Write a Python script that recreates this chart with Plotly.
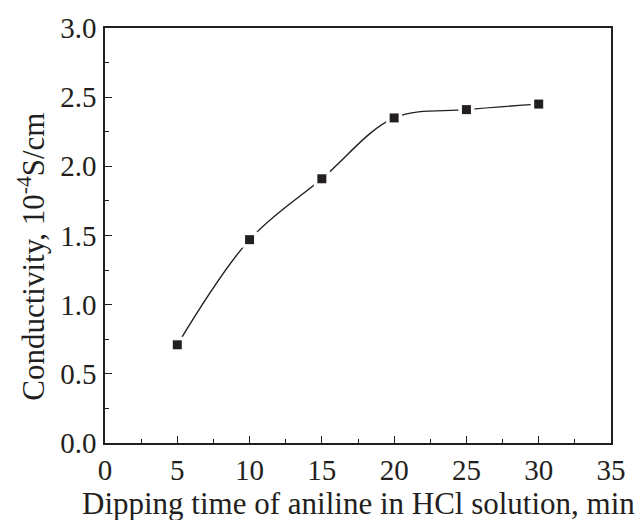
import plotly.graph_objects as go

# Conductivity vs. dipping time
dip_time_min = [5, 10, 15, 20, 25, 30]
conductivity = [0.71, 1.47, 1.91, 2.35, 2.41, 2.45]

x_ticks = [0, 5, 10, 15, 20, 25, 30, 35]
y_ticks = [0.0, 0.5, 1.0, 1.5, 2.0, 2.5, 3.0]
y_tick_text = [f"{v:.1f}" for v in y_ticks]

FONT = "Liberation Serif"
INK = "#231f20"

fig = go.Figure()

# smooth connecting curve
fig.add_trace(go.Scatter(
    x=dip_time_min, y=conductivity, mode="lines",
    line=dict(color=INK, width=1.4, shape="spline", smoothing=1.0),
    hoverinfo="skip", showlegend=False,
))
# white halo so the curve stops short of each point
fig.add_trace(go.Scatter(
    x=dip_time_min, y=conductivity, mode="markers",
    marker=dict(symbol="square", size=16, color="white", line=dict(width=0)),
    hoverinfo="skip", showlegend=False,
))
# data points
fig.add_trace(go.Scatter(
    x=dip_time_min, y=conductivity, mode="markers",
    marker=dict(symbol="square", size=9, color=INK, line=dict(width=0)),
    showlegend=False,
))

axis_common = dict(
    showline=True, linecolor=INK, linewidth=1.5, mirror=True,
    showgrid=False, zeroline=False,
    ticks="inside", tickcolor=INK, tickwidth=1.3, ticklen=7,
)

fig.update_xaxes(
    range=[0, 35], tickvals=x_ticks, ticktext=[str(v) for v in x_ticks],
    tickfont=dict(family=FONT, size=29, color=INK),
    minor=dict(dtick=2.5, tick0=0, ticks="inside", ticklen=4, tickcolor=INK, tickwidth=1.3),
    ticklabelstandoff=0,
    **axis_common,
)
fig.update_yaxes(
    range=[0, 3.0], tickvals=y_ticks, ticktext=y_tick_text,
    tickfont=dict(family=FONT, size=29, color=INK),
    minor=dict(dtick=0.25, tick0=0, ticks="inside", ticklen=4, tickcolor=INK, tickwidth=1.3),
    ticklabelstandoff=1,
    **axis_common,
)

fig.add_annotation(
    text="Dipping time of aniline in HCl solution, min",
    xref="paper", yref="paper", x=0.5, y=-0.146,
    xanchor="center", yanchor="middle", showarrow=False,
    font=dict(family=FONT, size=31, color=INK),
)
fig.add_annotation(
    text="Conductivity, 10<sup>-4</sup>S/cm",
    xref="paper", yref="paper", x=-0.147, y=0.448,
    xanchor="center", yanchor="middle", textangle=-90, showarrow=False,
    font=dict(family=FONT, size=31, color=INK),
)

fig.update_layout(
    width=638, height=520,
    margin=dict(l=105, r=22, t=27, b=77),
    paper_bgcolor="white", plot_bgcolor="white",
)

fig.write_html("out.html")
